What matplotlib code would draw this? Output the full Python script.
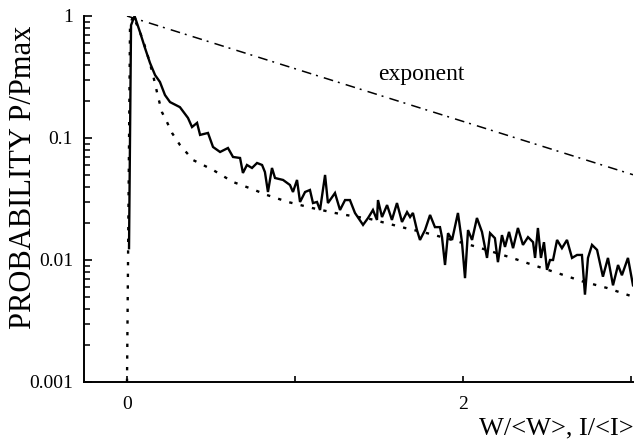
import matplotlib
matplotlib.use("Agg")
import matplotlib.pyplot as plt
from matplotlib.ticker import FixedLocator, NullFormatter, LogLocator

plt.rcParams['font.family'] = ['Liberation Serif', 'DejaVu Serif']
plt.rcParams['lines.scale_dashes'] = False

# measured distribution (solid)
w_meas = [0.012, 0.024, 0.045, 0.077, 0.107, 0.137, 0.167, 0.196, 0.226, 0.256,
          0.315, 0.363, 0.387, 0.417, 0.435, 0.482, 0.512, 0.554, 0.601, 0.631,
          0.673, 0.690, 0.714, 0.744, 0.774, 0.804, 0.821, 0.839, 0.863, 0.881,
          0.929, 0.970, 0.988, 1.012, 1.030, 1.060, 1.089, 1.107, 1.131, 1.149,
          1.179, 1.196, 1.238, 1.268, 1.298, 1.327, 1.357, 1.405, 1.435, 1.464,
          1.488, 1.494, 1.518, 1.548, 1.577, 1.607, 1.637, 1.667, 1.685, 1.702,
          1.726, 1.744, 1.774, 1.804, 1.833, 1.863, 1.875, 1.893, 1.911, 1.935,
          1.970, 1.994, 2.012, 2.030, 2.054, 2.083, 2.113, 2.143, 2.161, 2.190,
          2.208, 2.232, 2.250, 2.274, 2.298, 2.327, 2.357, 2.387, 2.417, 2.429,
          2.446, 2.464, 2.482, 2.500, 2.518, 2.536, 2.560, 2.589, 2.619, 2.649,
          2.679, 2.708, 2.726, 2.744, 2.768, 2.798, 2.833, 2.863, 2.893, 2.923,
          2.946, 2.982, 3.012]
p_meas = [0.0125, 0.84, 1.0, 0.74, 0.547, 0.412, 0.328, 0.288, 0.225, 0.197,
          0.179, 0.146, 0.123, 0.133, 0.106, 0.110, 0.0844, 0.0768, 0.0828, 0.0699,
          0.0686, 0.0517, 0.0601, 0.0568, 0.0624, 0.0601, 0.0526, 0.0361, 0.0568, 0.0470,
          0.0453, 0.0412, 0.0361, 0.0453, 0.0299, 0.0361, 0.0375, 0.0293, 0.0299, 0.0257,
          0.0498, 0.0293, 0.0354, 0.0257, 0.0310, 0.0310, 0.0243, 0.0194, 0.0221, 0.0257,
          0.0213, 0.0310, 0.0225, 0.0282, 0.0213, 0.0293, 0.0205, 0.0247, 0.0225, 0.0243,
          0.0176, 0.0146, 0.0176, 0.0234, 0.0186, 0.0186, 0.0154, 0.0091, 0.0166, 0.0146,
          0.0243, 0.0140, 0.0071, 0.0176, 0.0146, 0.0221, 0.0170, 0.0104, 0.0166, 0.0151,
          0.0096, 0.0160, 0.0128, 0.0170, 0.0125, 0.0183, 0.0133, 0.0154, 0.0140, 0.0104,
          0.0183, 0.0104, 0.0140, 0.0083, 0.0100, 0.0100, 0.0146, 0.0125, 0.0146, 0.0104,
          0.0110, 0.0110, 0.0052, 0.0104, 0.0133, 0.0121, 0.0073, 0.0104, 0.0062, 0.0091,
          0.0075, 0.0104, 0.0062]

# model distribution (dotted)
w_model = [0.0, 0.018, 0.036, 0.065, 0.095, 0.131, 0.155, 0.185, 0.208, 0.238,
           0.268, 0.315, 0.393, 0.512, 0.631, 0.744, 0.833, 0.958, 1.101, 1.238,
           1.310, 1.446, 1.583, 1.655, 1.786, 1.875, 2.083, 2.292, 2.417, 2.565,
           2.708, 2.857, 2.994]
p_model = [0.001, 0.84, 1.0, 0.81, 0.636, 0.436, 0.328, 0.217, 0.163, 0.135,
           0.110, 0.0877, 0.0660, 0.0547, 0.0436, 0.0382, 0.0341, 0.0299, 0.0267, 0.0243,
           0.0233, 0.0217, 0.0194, 0.0183, 0.0166, 0.0154, 0.0128, 0.0104, 0.0091, 0.0078,
           0.0067, 0.0059, 0.0051]

# exponent reference line
w_exp = [0.0, 3.012]
p_exp = [1.0, 0.050]

fig = plt.figure(figsize=(6.36, 4.47), dpi=100)
ax = fig.add_axes([84 / 636, 1 - 382 / 447, 549 / 636, 366 / 447])

ax.plot(w_exp, p_exp, color='black', lw=1.1, dashes=(7, 3.6, 1.4, 4.5))
ax.plot(w_model, p_model, color='black', lw=1.7, dashes=(2.4, 6.0))
ax.plot(w_meas, p_meas, color='black', lw=1.7, solid_joinstyle='miter')

ax.text(1.753, 0.30, 'exponent', fontsize=17, ha='center', va='baseline')

ax.set_yscale('log')
ax.set_ylim(0.001, 1)
ax.set_xlim(-0.256, 3.012)

ax.set_yticks([0.001, 0.01, 0.1, 1])
ax.set_yticklabels(['0.001', '0.01', '0.1', '1'])
ax.yaxis.set_minor_locator(LogLocator(base=10, subs=range(2, 10)))
ax.yaxis.set_minor_formatter(NullFormatter())

ax.set_xticks([0, 2])
ax.set_xticklabels(['0', '2'])
ax.xaxis.set_minor_locator(FixedLocator([1, 3]))

ax.tick_params(axis='y', which='major', direction='in', length=6, width=1.2,
               labelsize=14, pad=8)
ax.tick_params(axis='y', which='minor', direction='in', length=4, width=1.1)
ax.tick_params(axis='x', which='both', direction='in', length=4.5, width=1.2,
               labelsize=14, pad=10)

for s in ['top', 'right']:
    ax.spines[s].set_visible(False)
for s in ['left', 'bottom']:
    ax.spines[s].set_linewidth(1.4)

fig.text(24 / 636, 1 - 177 / 447, 'PROBABILITY P/Pmax', rotation=90,
         fontsize=22, ha='center', va='center')
fig.text(634 / 636, 1 - 428 / 447, 'W/<W>, I/<I>', fontsize=19,
         ha='right', va='center')

fig.savefig('out.png', dpi=100)
